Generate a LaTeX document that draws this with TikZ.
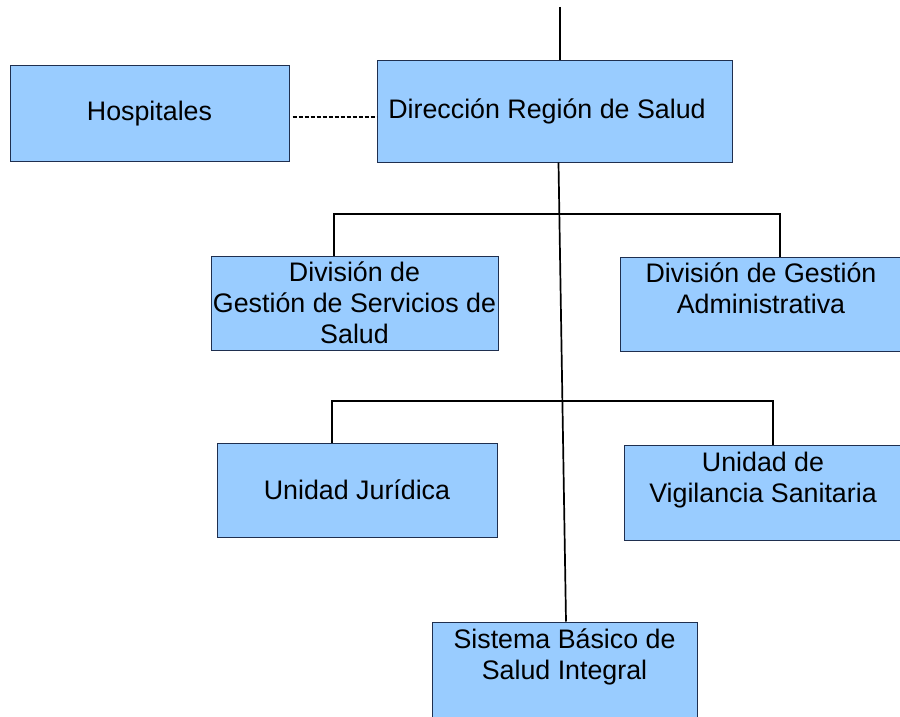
\documentclass[tikz,border=0pt]{standalone}
\usepackage{fontspec}
\setmainfont{Liberation Sans}
\definecolor{boxfill}{HTML}{99CCFF}
\definecolor{boxline}{HTML}{1F2F4F}
\begin{document}
\begin{tikzpicture}[x=1pt, y=-1pt, line width=1.7pt,
	unit/.style={draw=boxline, line width=1pt, fill=boxfill, inner sep=0pt, align=center,
	  font=\fontsize{26.8}{31}\selectfont}]
	\useasboundingbox (0,0) rectangle (900,717);
	\coordinate (top) at (560,7);
	\coordinate (j1) at (558,214);
	\coordinate (j2) at (561,401);
	% the boxes
	\node [unit, minimum width=279pt, minimum height=95pt]  (hosp) at (149.5,113.5) {Hospitales};
	\node [unit, minimum width=355pt, minimum height=101pt] (dir)  at (554.5,111.5) {\hspace*{-15pt}\raisebox{3.5pt}{Dirección Región de Salud}};
	\node [unit, minimum width=287pt, minimum height=94pt]  (dgss) at (354.5,303) {División de\\Gestión de Servicios de\\Salud};
	\node [unit, minimum width=282pt, minimum height=94pt]  (dga)  at (761,304) {División de Gestión\\Administrativa\\\mbox{}};
	\node [unit, minimum width=280pt, minimum height=94pt]  (uj)   at (357,490) {Unidad Jurídica};
	\node [unit, minimum width=278pt, minimum height=95pt]  (uvs)  at (763,492.5) {Unidad de\\Vigilancia Sanitaria\\\mbox{}};
	\node [unit, minimum width=265pt, minimum height=96pt]  (sbsi) at (564.5,670) {Sistema Básico de\\Salud Integral\\\mbox{}};
	% connectors
	\draw (top) -- (top |- dir.north);
	\draw ([xshift=4pt]dir.south) -- ([xshift=1.5pt]sbsi.north);
	\draw ([xshift=-20.5pt]dgss.north) |- (j1) -| ([xshift=19pt]dga.north);
	\draw ([xshift=-25pt]uj.north) |- (j2) -| ([xshift=10pt]uvs.north);
	\draw [line width=1.2pt, dash pattern=on 4pt off 2pt] ([xshift=3pt,yshift=-3.5pt]hosp.east) -- ([yshift=-3.5pt]hosp.east -| dir.west);
\end{tikzpicture}
\end{document}
